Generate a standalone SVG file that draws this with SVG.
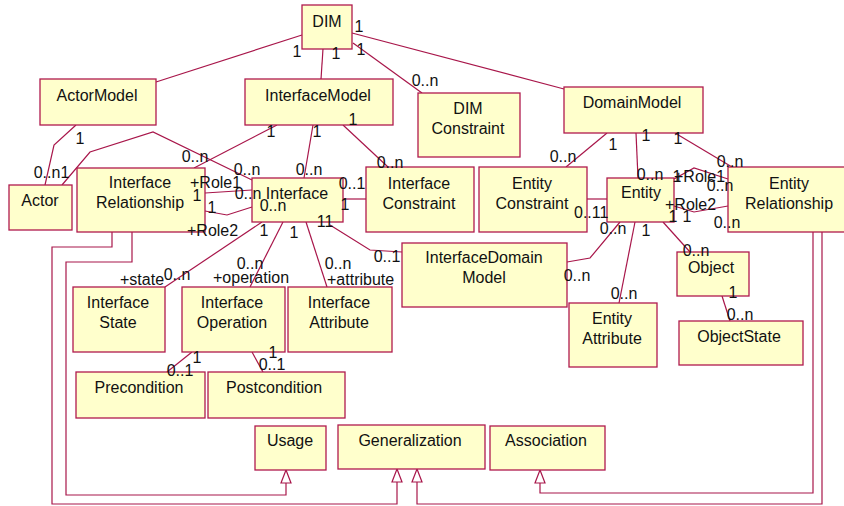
<svg xmlns="http://www.w3.org/2000/svg" width="844" height="506" viewBox="0 0 844 506">
  <style>
    .box { fill: #FFFFCC; stroke: #B01A4E; stroke-width: 1.3; }
    .lbl { font-family: "Liberation Sans", Arial, sans-serif; font-size: 16px; fill: #111; text-anchor: middle; }
    .m { font-family: "Liberation Sans", Arial, sans-serif; font-size: 16px; fill: #111; text-anchor: middle; }
    .r { font-family: "Liberation Sans", Arial, sans-serif; font-size: 16px; fill: #111; }
    .ln { fill: none; stroke: #A8164A; stroke-width: 1.2; }
    .tri { fill: #FFFFFF; stroke: #A8164A; stroke-width: 1.2; }
  </style>
  <rect width="844" height="506" fill="#FFFFFF"/>

  <!-- connectors -->
  <g id="connectors">
    <!-- DIM associations -->
    <line class="ln" x1="302" y1="35" x2="156" y2="82"/>
    <line class="ln" x1="323" y1="49" x2="321" y2="79"/>
    <line class="ln" x1="353" y1="43" x2="422" y2="93"/>
    <line class="ln" x1="352" y1="33" x2="564" y2="89"/>
    <!-- ActorModel / Actor -->
    <polyline class="ln" points="76,125 54,145 45,185"/>
    <polyline class="ln" points="62,185 90,152 153,132 252,180"/>
    <!-- InterfaceModel -->
    <line class="ln" x1="277" y1="125" x2="194" y2="168"/>
    <line class="ln" x1="313" y1="125" x2="304" y2="178"/>
    <line class="ln" x1="343" y1="125" x2="388" y2="167"/>
    <!-- Interface relationship roles -->
    <line class="ln" x1="205" y1="193" x2="252" y2="190"/>
    <polyline class="ln" points="205,211 227,215 252,207"/>
    <!-- Interface -->
    <line class="ln" x1="343" y1="199" x2="366" y2="199"/>
    <line class="ln" x1="262" y1="222" x2="165" y2="287"/>
    <line class="ln" x1="283" y1="222" x2="250" y2="287"/>
    <line class="ln" x1="306" y1="222" x2="327" y2="287"/>
    <polyline class="ln" points="330,225 370,250 402,252"/>
    <!-- InterfaceOperation -->
    <line class="ln" x1="192" y1="352" x2="167" y2="372"/>
    <line class="ln" x1="252" y1="352" x2="263" y2="372"/>
    <!-- DomainModel -->
    <line class="ln" x1="607" y1="133" x2="566" y2="167"/>
    <line class="ln" x1="636" y1="133" x2="638" y2="178"/>
    <line class="ln" x1="675" y1="133" x2="732" y2="167"/>
    <!-- Entity -->
    <line class="ln" x1="587" y1="199" x2="607" y2="199"/>
    <polyline class="ln" points="620,222 590,258 567,262"/>
    <line class="ln" x1="635" y1="222" x2="619" y2="303"/>
    <line class="ln" x1="663" y1="222" x2="690" y2="252"/>
    <polyline class="ln" points="674,179 694,168 728,179"/>
    <polyline class="ln" points="674,206 694,212 728,206"/>
    <line class="ln" x1="722" y1="296" x2="730" y2="321"/>
    <!-- generalization links -->
    <polyline class="ln" points="112,232 112,247 52,247 52,504 397,504 397,482"/>
    <polyline class="ln" points="132,232 132,262 66,262 66,495 286,495 286,483"/>
    <polyline class="ln" points="822,232 822,504 417,504 417,482"/>
    <polyline class="ln" points="813,232 813,493 540,493 540,483"/>
    <polygon class="tri" points="286,470 281,483 291,483"/>
    <polygon class="tri" points="397,469 392,482 402,482"/>
    <polygon class="tri" points="417,469 412,482 422,482"/>
    <polygon class="tri" points="540,470 535,483 545,483"/>
  </g>

  <!-- classes -->
  <g id="DIM"><rect class="box" x="302" y="5" width="50" height="44"/><text class="lbl" x="327" y="27">DIM</text></g>
  <g id="ActorModel"><rect class="box" x="40" y="79" width="116" height="46"/><text class="lbl" x="97" y="101">ActorModel</text></g>
  <g id="InterfaceModel"><rect class="box" x="245" y="79" width="148" height="46"/><text class="lbl" x="318" y="101">InterfaceModel</text></g>
  <g id="DIMConstraint"><rect class="box" x="418" y="93" width="102" height="64"/><text class="lbl" x="468" y="114">DIM</text><text class="lbl" x="468" y="134">Constraint</text></g>
  <g id="DomainModel"><rect class="box" x="564" y="87" width="139" height="46"/><text class="lbl" x="632" y="108">DomainModel</text></g>
  <g id="Actor"><rect class="box" x="9" y="185" width="63" height="45"/><text class="lbl" x="40" y="206">Actor</text></g>
  <g id="InterfaceRelationship"><rect class="box" x="77" y="168" width="128" height="64"/><text class="lbl" x="140" y="188">Interface</text><text class="lbl" x="140" y="208">Relationship</text></g>
  <g id="Interface"><rect class="box" x="252" y="178" width="91" height="44"/><text class="lbl" x="297" y="199">Interface</text></g>
  <g id="InterfaceConstraint"><rect class="box" x="366" y="167" width="108" height="65"/><text class="lbl" x="419" y="189">Interface</text><text class="lbl" x="419" y="209">Constraint</text></g>
  <g id="EntityConstraint"><rect class="box" x="479" y="167" width="108" height="65"/><text class="lbl" x="532" y="189">Entity</text><text class="lbl" x="532" y="209">Constraint</text></g>
  <g id="Entity"><rect class="box" x="607" y="178" width="67" height="44"/><text class="lbl" x="641" y="198">Entity</text></g>
  <g id="EntityRelationship"><rect class="box" x="728" y="167" width="122" height="65"/><text class="lbl" x="789" y="189">Entity</text><text class="lbl" x="789" y="209">Relationship</text></g>
  <g id="InterfaceDomainModel"><rect class="box" x="402" y="243" width="165" height="64"/><text class="lbl" x="484" y="263">InterfaceDomain</text><text class="lbl" x="484" y="283">Model</text></g>
  <g id="EntityAttribute"><rect class="box" x="569" y="303" width="88" height="64"/><text class="lbl" x="612" y="324">Entity</text><text class="lbl" x="612" y="344">Attribute</text></g>
  <g id="Object"><rect class="box" x="677" y="252" width="72" height="44"/><text class="lbl" x="711" y="273">Object</text></g>
  <g id="ObjectState"><rect class="box" x="679" y="321" width="124" height="44"/><text class="lbl" x="739" y="342">ObjectState</text></g>
  <g id="InterfaceState"><rect class="box" x="73" y="287" width="92" height="65"/><text class="lbl" x="118" y="308">Interface</text><text class="lbl" x="118" y="328">State</text></g>
  <g id="InterfaceOperation"><rect class="box" x="182" y="287" width="103" height="65"/><text class="lbl" x="232" y="308">Interface</text><text class="lbl" x="232" y="328">Operation</text></g>
  <g id="InterfaceAttribute"><rect class="box" x="288" y="287" width="104" height="65"/><text class="lbl" x="339" y="308">Interface</text><text class="lbl" x="339" y="328">Attribute</text></g>
  <g id="Precondition"><rect class="box" x="76" y="372" width="129" height="46"/><text class="lbl" x="139" y="393">Precondition</text></g>
  <g id="Postcondition"><rect class="box" x="208" y="372" width="137" height="46"/><text class="lbl" x="274" y="393">Postcondition</text></g>
  <g id="Usage"><rect class="box" x="255" y="426" width="71" height="44"/><text class="lbl" x="290" y="446">Usage</text></g>
  <g id="Generalization"><rect class="box" x="338" y="425" width="147" height="44"/><text class="lbl" x="410" y="446">Generalization</text></g>
  <g id="Association"><rect class="box" x="490" y="426" width="115" height="44"/><text class="lbl" x="546" y="446">Association</text></g>

  <!-- multiplicities and role names, drawn over the class boxes -->
  <g id="connector-labels">
    <text class="m" x="359" y="32">1</text>
    <text class="m" x="361" y="55">1</text>
    <text class="m" x="297" y="57">1</text>
    <text class="m" x="336" y="59">1</text>
    <text class="m" x="425" y="86">0..n</text>
    <text class="m" x="80" y="144">1</text>
    <text class="m" x="47" y="178">0..n</text>
    <text class="m" x="65" y="178">1</text>
    <text class="m" x="271" y="137">1</text>
    <text class="m" x="317" y="137">1</text>
    <text class="m" x="353" y="125">1</text>
    <text class="m" x="195" y="162">0..n</text>
    <text class="m" x="247" y="175">0..n</text>
    <text class="m" x="309" y="175">0..n</text>
    <text class="m" x="390" y="168">0..n</text>
    <text class="r" x="190" y="188">+Role1</text>
    <text class="m" x="197" y="201">1</text>
    <text class="m" x="248" y="199">0..n</text>
    <text class="m" x="212" y="213">1</text>
    <text class="m" x="273" y="211">0..n</text>
    <text class="r" x="187" y="236">+Role2</text>
    <text class="m" x="352" y="189">0..1</text>
    <text class="m" x="345" y="210">1</text>
    <text class="m" x="325" y="227">11</text>
    <text class="m" x="264" y="236">1</text>
    <text class="m" x="294" y="238">1</text>
    <text class="m" x="177" y="280">0..n</text>
    <text class="r" x="120" y="285">+state</text>
    <text class="m" x="250" y="269">0..n</text>
    <text class="r" x="213" y="283">+operation</text>
    <text class="m" x="338" y="269">0..n</text>
    <text class="r" x="327" y="285">+attribute</text>
    <text class="m" x="387" y="262">0..1</text>
    <text class="m" x="197" y="363">1</text>
    <text class="m" x="180" y="376">0..1</text>
    <text class="m" x="273" y="358">1</text>
    <text class="m" x="272" y="370">0..1</text>
    <text class="m" x="613" y="150">1</text>
    <text class="m" x="563" y="162">0..n</text>
    <text class="m" x="646" y="141">1</text>
    <text class="m" x="678" y="144">1</text>
    <text class="m" x="730" y="167">0..n</text>
    <text class="m" x="650" y="180">0..n</text>
    <text class="r" x="574" y="218">0..11</text>
    <text class="m" x="613" y="234">0..n</text>
    <text class="m" x="646" y="236">1</text>
    <text class="m" x="577" y="281">0..n</text>
    <text class="m" x="624" y="299">0..n</text>
    <text class="m" x="696" y="256">0..n</text>
    <text class="m" x="733" y="298">1</text>
    <text class="m" x="740" y="320">0..n</text>
    <text class="m" x="677" y="182">1</text>
    <text class="r" x="674" y="182">+Role1</text>
    <text class="m" x="720" y="191">0..n</text>
    <text class="r" x="665" y="210">+Role2</text>
    <text class="m" x="673" y="222">1</text>
    <text class="m" x="687" y="222">1</text>
    <text class="m" x="727" y="228">0..n</text>
  </g>
</svg>
